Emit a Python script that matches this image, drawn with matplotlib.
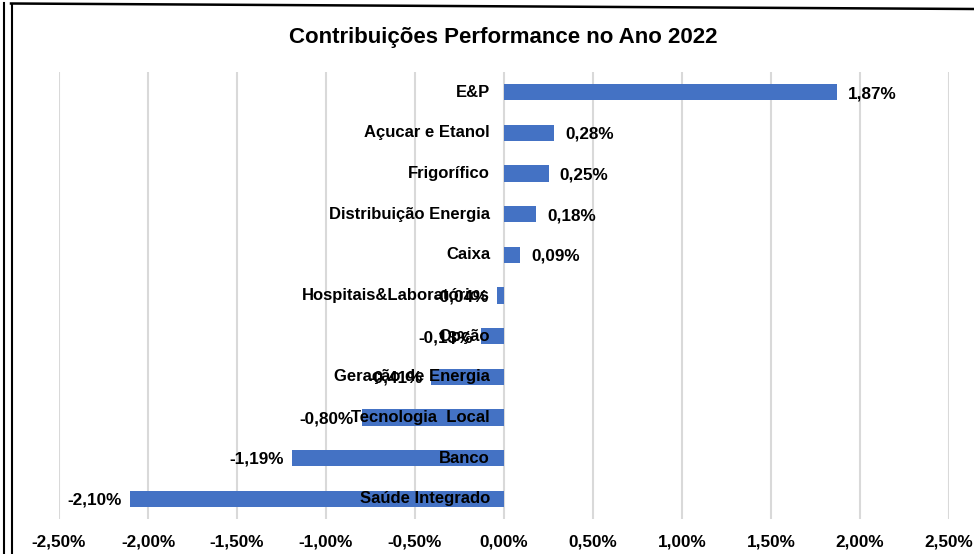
import matplotlib.pyplot as plt
from matplotlib.lines import Line2D

plt.rcParams['font.family'] = ['Liberation Sans', 'DejaVu Sans']

# dados (contribuição em %)
categorias = ['E&P', 'Açucar e Etanol', 'Frigorífico', 'Distribuição Energia', 'Caixa',
              'Hospitais&Laboratórios', 'Opção', 'Geração de Energia', 'Tecnologia  Local',
              'Banco', 'Saúde Integrado']
valores = [1.87, 0.28, 0.25, 0.18, 0.09, -0.04, -0.13, -0.41, -0.80, -1.19, -2.10]
ticks = [-2.5, -2.0, -1.5, -1.0, -0.5, 0.0, 0.5, 1.0, 1.5, 2.0, 2.5]

W, H = 974, 554
fig = plt.figure(figsize=(W / 100, H / 100), dpi=100)
ax = fig.add_axes([59 / W, 1 - 519 / H, 890 / W, 447 / H])

cor = '#4472c4'
pos = list(range(len(categorias)))
ax.barh(pos, valores, height=0.4, color=cor, zorder=2)
ax.set_ylim(len(categorias) - 0.5, -0.5)
ax.set_xlim(-2.5, 2.5)

ax.set_xticks(ticks)
ax.set_xticklabels([f'{t:.2f}%'.replace('.', ',') for t in ticks],
                   fontsize=12.3, fontweight='bold')
ax.tick_params(axis='x', length=0, pad=11)
ax.set_yticks([])
for s in ax.spines.values():
    s.set_visible(False)
ax.grid(axis='x', color='#d9d9d9', linewidth=1.5, zorder=0)

# rótulos das categorias junto ao eixo zero
for i, nome in enumerate(categorias):
    ax.annotate(nome, (0, i), xytext=(-10, 0), textcoords='offset points',
                ha='right', va='center', fontsize=12, fontweight='bold', zorder=3)

# rótulos dos valores
for i, v in enumerate(valores):
    txt = f'{v:.2f}%'.replace('.', ',')
    if v >= 0:
        ax.annotate(txt, (v, i), xytext=(8, -1), textcoords='offset points',
                    ha='left', va='center', fontsize=12.3, fontweight='bold')
    else:
        ax.annotate(txt, (v, i), xytext=(-6, -1), textcoords='offset points',
                    ha='right', va='center', fontsize=12.3, fontweight='bold', zorder=3)

fig.text(503 / W, 1 - 37 / H, 'Contribuições Performance no Ano 2022',
         ha='center', va='center', fontsize=16, fontweight='bold')

# moldura
fig.add_artist(Line2D([4 / W, 4 / W], [0, 1 - 3 / H], color='black', lw=1.5))
fig.add_artist(Line2D([11.5 / W, 11.5 / W], [0, 1 - 3.5 / H], color='black', lw=1.5))
fig.add_artist(Line2D([11 / W, 1], [1 - 3.5 / H, 1 - 9 / H], color='black', lw=1.8))

fig.savefig('out.png', dpi=100)
